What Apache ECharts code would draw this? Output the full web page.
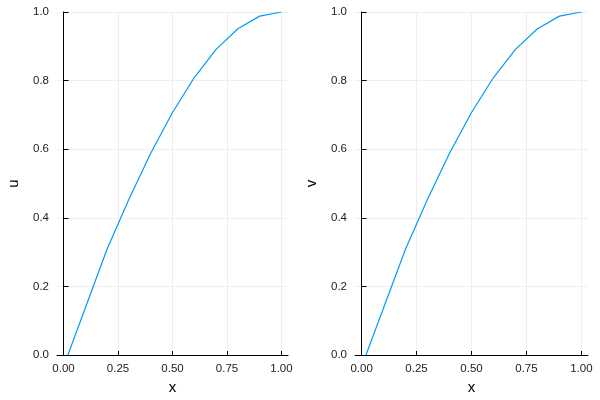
<!DOCTYPE html><html><head><meta charset="utf-8"><script src="https://cdn.jsdelivr.net/npm/echarts@6/dist/echarts.min.js"></script></head><body style="margin:0"><div id="c" style="width:600px;height:400px"></div><script>
const xs=[0.02,0.2,0.3,0.4,0.5,0.6,0.7,0.8,0.9,1.0];
const u=[0,0.309,0.454,0.588,0.707,0.809,0.891,0.951,0.988,1.0];
const v=[0,0.309,0.454,0.588,0.707,0.809,0.891,0.951,0.988,1.0];
const xTicks=[0,0.25,0.5,0.75,1];
const xLabels=['0.00','0.25','0.50','0.75','1.00'];
const yLabelsNames=['u','v'];
const c=echarts.init(document.getElementById('c'));
const grids=[{left:57,right:312,top:12,bottom:45},{left:355,right:12,top:12,bottom:45}];
function xa(i){return {gridIndex:i,type:'value',min:-0.03,max:1.03,name:'x',nameLocation:'middle',nameGap:24,nameTextStyle:{fontSize:15,color:'#000'},
 axisLine:{onZero:false,lineStyle:{color:'#000'}},axisTick:{customValues:xTicks,length:-4,lineStyle:{color:'#000'}},
 axisLabel:{customValues:xTicks,formatter:v=>xLabels[xTicks.indexOf(Math.round(v*100)/100)]??'',color:'#222',fontSize:11.5},
 splitLine:{show:true,customValues:xTicks,lineStyle:{color:'#eee'}}};}
function ya(i){return {gridIndex:i,type:'value',min:0,max:1,interval:0.2,name:yLabelsNames[i],nameLocation:'middle',nameGap:36,nameTextStyle:{fontSize:15,color:'#000'},
 axisLine:{show:true,lineStyle:{color:'#000'}},axisTick:{show:true,inside:true,lineStyle:{color:'#000'}},
 axisLabel:{formatter:v=>v.toFixed(1),color:'#222',fontSize:11.5},splitLine:{lineStyle:{color:'#eee'}}};}
c.setOption({animation:false,grid:grids,xAxis:[xa(0),xa(1)],yAxis:[ya(0),ya(1)],
series:[{type:'line',xAxisIndex:0,yAxisIndex:0,data:xs.map((x,i)=>[x,u[i]]),showSymbol:false,lineStyle:{color:'#009af9',width:1.2}},
{type:'line',xAxisIndex:1,yAxisIndex:1,data:xs.map((x,i)=>[x,v[i]]),showSymbol:false,lineStyle:{color:'#009af9',width:1.2}}]});
</script></body></html>
